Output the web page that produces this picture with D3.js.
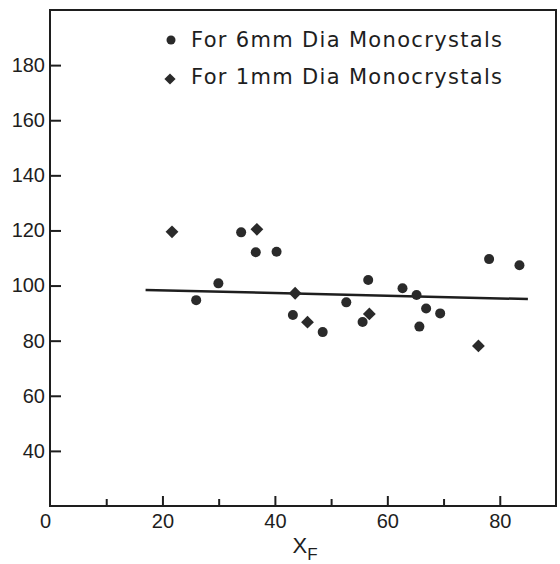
<!DOCTYPE html>
<html>
<head>
<meta charset="utf-8">
<script src="https://cdn.jsdelivr.net/npm/d3@7"></script>
<style>
  body { margin: 0; background: white; }
  svg text { fill: #1e1e1e; }
</style>
</head>
<body>
<div id="Canvas"></div>
<script>
// data
let Six_mm_X = [26.0, 29.95, 34.0, 36.6, 40.3, 43.2, 48.5, 52.7, 55.6, 56.6, 62.7, 65.2, 65.7, 66.9, 69.4, 78.1, 83.5]
let Six_mm_Y = [94.7, 100.8, 119.3, 112.1, 112.3, 89.3, 83.1, 93.9, 86.8, 102.0, 99.0, 96.6, 85.1, 91.7, 89.9, 109.6, 107.4]
let One_mm_X = [21.7, 36.8, 43.6, 45.8, 56.8, 76.2]
let One_mm_Y = [119.5, 120.4, 97.2, 86.7, 89.7, 78.1]
let Fit_X = [17, 85]
let Fit_Y = [98.4, 95.1]
let X_ticks_major = [0, 20, 40, 60, 80]
let X_ticks_minor = [10, 30, 50, 70]
let Y_ticks = [40, 60, 80, 100, 120, 140, 160, 180]
let Legend_text = ["For 6mm Dia Monocrystals", "For 1mm Dia Monocrystals"]

const ink = "#1e1e1e"

let svg = d3.select("#Canvas")
    .append("svg")
    .attr("width", 560)
    .attr("height", 564)
    .style("background", "white")

//框的位置 left 50 right 556 top 10 bottom 506
let X_Scale = d3.scaleLinear().domain([0, 90]).range([50, 556])
let Y_Scale = d3.scaleLinear().domain([20, 200]).range([506, 10])

// y axis, ticks point inward
let Y_axis = d3.axisLeft(Y_Scale).tickValues(Y_ticks).tickSize(-11).tickSizeOuter(0).tickPadding(5)
let gy = svg.append("g").attr("transform", "translate(50,0)").call(Y_axis)
gy.select(".domain").remove()
gy.selectAll("line").attr("stroke", ink).attr("stroke-width", 2)
gy.selectAll("text").style("font-family", "Liberation Sans").style("font-size", "20px").attr("fill", ink)

// x axis minor ticks
let X_minor = d3.axisBottom(X_Scale).tickValues(X_ticks_minor).tickSize(-7).tickSizeOuter(0).tickFormat("")
let gxm = svg.append("g").attr("transform", "translate(0,506)").call(X_minor)
gxm.select(".domain").remove()
gxm.selectAll("line").attr("stroke", ink).attr("stroke-width", 2)

// x axis major ticks + labels
let X_axis = d3.axisBottom(X_Scale).tickValues(X_ticks_major).tickSize(-10).tickSizeOuter(0).tickPadding(8)
let gx = svg.append("g").attr("transform", "translate(0,506)").call(X_axis)
gx.select(".domain").remove()
gx.selectAll("line").attr("stroke", ink).attr("stroke-width", 2)
gx.selectAll(".tick").filter(d => d === 0).select("line").remove()
gx.selectAll("text").style("font-family", "Liberation Sans").style("font-size", "20px").attr("fill", ink)
gx.selectAll(".tick").filter(d => d === 0).select("text").attr("transform", "translate(-5,0)")

// frame
svg.append("rect")
    .attr("x", X_Scale(0)).attr("y", Y_Scale(200))
    .attr("width", X_Scale(90) - X_Scale(0))
    .attr("height", Y_Scale(20) - Y_Scale(200))
    .attr("fill", "none").attr("stroke", ink).attr("stroke-width", 2)

// x label X_F
let xl = svg.append("text")
    .attr("x", X_Scale(45) + 2).attr("y", 553)
    .attr("text-anchor", "middle")
    .style("font-family", "Liberation Sans").style("font-size", "22px")
xl.append("tspan").text("X")
xl.append("tspan").attr("dy", 7).style("font-size", "17px").text("F")

// fitted line
let fit = d3.line().x(d => X_Scale(d[0])).y(d => Y_Scale(d[1]))
svg.append("path")
    .attr("d", fit(d3.zip(Fit_X, Fit_Y)))
    .attr("stroke", ink).attr("stroke-width", 2.5).attr("fill", "none")

// 6mm circles
svg.append("g").selectAll("circle")
    .data(d3.zip(Six_mm_X, Six_mm_Y)).enter()
    .append("circle")
    .attr("cx", d => X_Scale(d[0])).attr("cy", d => Y_Scale(d[1]))
    .attr("r", 5).attr("fill", "#2a2a2a")

// 1mm diamonds
let diamond = d3.symbol().type(d3.symbolDiamond2).size(105)
svg.append("g").selectAll("path")
    .data(d3.zip(One_mm_X, One_mm_Y)).enter()
    .append("path")
    .attr("d", diamond)
    .attr("transform", d => "translate(" + X_Scale(d[0]) + "," + Y_Scale(d[1]) + ")")
    .attr("fill", "#2a2a2a")

// legend
let lg = svg.append("g")
lg.append("circle").attr("cx", 171).attr("cy", 40).attr("r", 4.5).attr("fill", "#2a2a2a")
lg.append("path").attr("d", d3.symbol().type(d3.symbolDiamond2).size(80)).attr("transform", "translate(170,79)").attr("fill", "#2a2a2a")
lg.selectAll("text")
    .data(Legend_text).enter()
    .append("text")
    .attr("x", 191).attr("y", (d, i) => 47 + i * 37)
    .attr("textLength", 311).attr("lengthAdjust", "spacing")
    .style("font-family", "DejaVu Sans").style("font-size", "21px")
    .text(d => d)
</script>
</body>
</html>
